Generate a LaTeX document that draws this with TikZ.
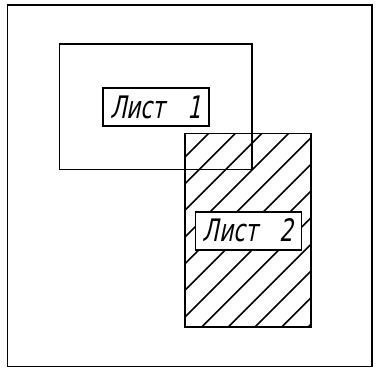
\documentclass[tikz,border=0pt]{standalone}
\usepackage{fontspec}
\newfontfamily\gostfont[FakeStretch=0.7,FakeSlant=0.2]{DejaVu Sans}
\tikzset{label box/.style = {draw, fill=white, line width=1.6pt, minimum width=106pt, minimum height=38pt, inner sep=0pt, font=\gostfont\fontsize{31}{31}\selectfont}}

\begin{document}
\begin{tikzpicture}[x=1pt,y=-1pt,line width=1.6pt]
\useasboundingbox (0,0) rectangle (382,371);
\draw (7.5,5) rectangle (372,366.5);
\begin{scope}
\clip (184.7,133.7) rectangle (310.7,327);
\foreach \i in {0,...,12}
  \draw ({315.3+\i*26.67-340},340) -- ({315.3+\i*26.67-120},120);
\end{scope}
\draw (184.7,133.7) rectangle (310.7,327);
\draw (59.3,44.3) rectangle (251.7,169.7);
\node[label box] (sheet1) at (155.7,107) {Лист\hspace{22pt}1};
\node[label box] (sheet2) at (248.3,230.7) {Лист\hspace{22pt}2};
\end{tikzpicture}
\end{document}
